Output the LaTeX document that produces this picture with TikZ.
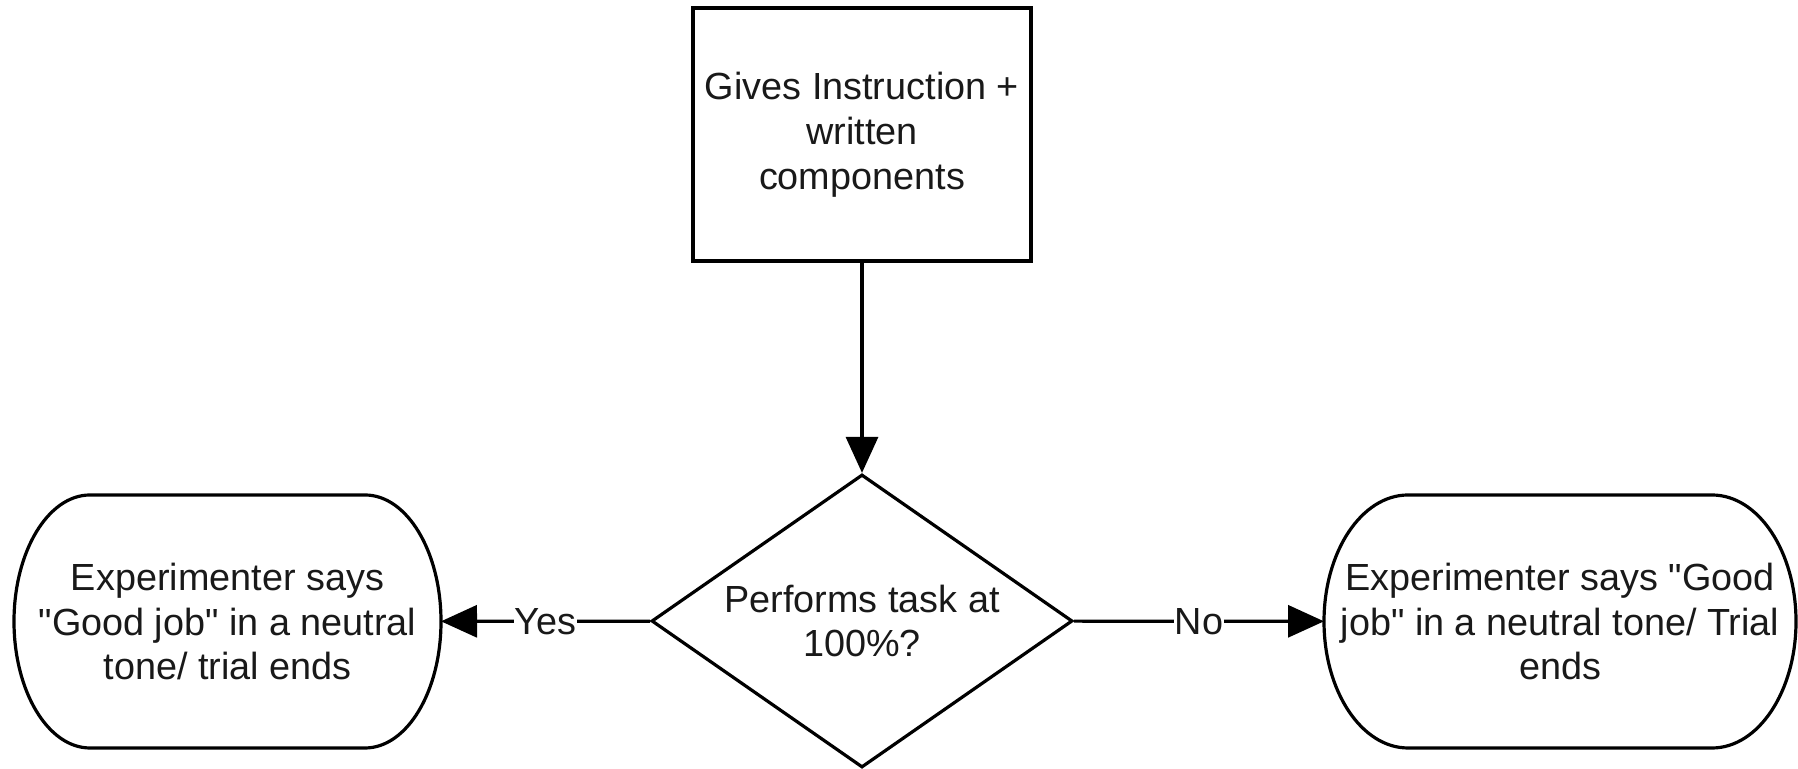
\documentclass[tikz,border=0pt]{standalone}
\usepackage{fontspec}
\setmainfont{Liberation Sans}
\usetikzlibrary{shapes.geometric,arrows.meta,calc}

% outline with straight top/bottom and half-ellipse sides around a node
\newcommand\ovalsides[2]{%
  \draw[outline] let \p1=(#1.north west), \p2=(#1.south east), \n1={(\y1-\y2)/2} in
    (\x1+#2,\y1) -- (\x2-#2,\y1)
    arc[start angle=90, end angle=-90, x radius=#2, y radius=\n1]
    -- (\x1+#2,\y2)
    arc[start angle=270, end angle=90, x radius=#2, y radius=\n1]
    -- cycle;}
\newcommand\dq{\textquotedbl}

\begin{document}
\begin{tikzpicture}[x=0.5pt,y=0.5pt,
  every node/.style={font=\fontsize{18.9pt}{22.4pt}\selectfont, align=center, text=black!90},
  box/.style={draw, line width=1.6pt, minimum width=169pt, minimum height=126.5pt, inner sep=0pt},
  decision/.style={diamond, draw, line width=1.6pt, minimum width=210.5pt,
    minimum height=146.5pt, inner sep=0pt, aspect=1.44},
  outcome/.style={minimum height=126.5pt, inner sep=0pt, outer sep=0pt},
  outline/.style={line width=1.6pt},
  flow/.style={line width=1.6pt, -{Triangle[length=18pt,width=16pt]}},
  lbl/.style={fill=white, inner sep=0.5pt}
]
\useasboundingbox (0,0) rectangle (1798,769);

\node[box] (instr) at (862,634.5) {Gives Instruction +\\written\\components};
\node[decision] (task) at (862,148) {Performs task at\\100\%?};
\node[outcome, minimum width=213.5pt] (yes) at (227.5,147.5)
  {Experimenter says\\\dq Good job\dq{} in a neutral\\tone/ trial ends};
\node[outcome, minimum width=236pt] (no) at (1560,147.5)
  {Experimenter says \dq Good\\job\dq{} in a neutral tone/ Trial\\ends};

\ovalsides{yes}{38pt}
\ovalsides{no}{42pt}

\draw[flow] (instr) -- (task);
\draw[flow] (task) -- node[lbl] {Yes} (yes);
\draw[flow] (task) -- node[lbl] {No} (no);
\end{tikzpicture}
\end{document}
